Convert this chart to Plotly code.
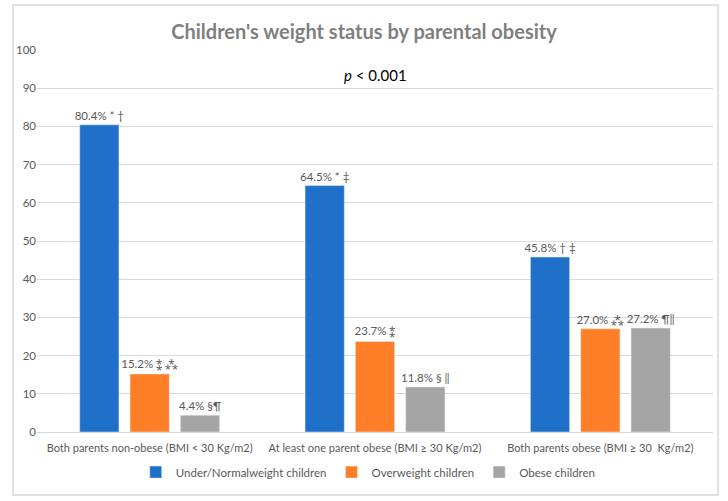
import plotly.graph_objects as go

categories = ["Both parents non-obese (BMI < 30 Kg/m2)",
              "At least one parent obese (BMI ≥ 30 Kg/m2)",
              "Both parents obese (BMI ≥ 30  Kg/m2)"]
series_names = ["Under/Normalweight children", "Overweight children", "Obese children"]
normal_vals = [80.4, 64.5, 45.8]
over_vals = [15.2, 23.7, 27.0]
obese_vals = [4.4, 11.8, 27.2]
normal_labels = ["80.4% * †", "64.5% * ‡", "45.8% † ‡"]
over_labels = ["15.2% ⁑ ⁂", "23.7% ⁑", "27.0% ⁂"]
obese_labels = ["4.4% §¶", "11.8% § ‖", "27.2% ¶‖"]
colors = ["#1f70c8", "#fe7f27", "#a5a5a5"]
y_ticks = list(range(0, 101, 10))

FONT = "Lato, Carlito, 'Open Sans', sans-serif"
fig = go.Figure()
for name, vals, labels, c in zip(series_names, [normal_vals, over_vals, obese_vals],
                                 [normal_labels, over_labels, obese_labels], colors):
    fig.add_trace(go.Bar(x=categories, y=vals, name=name, marker_color=c,
                         text=labels, textposition="outside", cliponaxis=False,
                         constraintext="none",
                         textfont=dict(size=11.5, color="#595959", family=FONT)))

fig.update_layout(
    width=728, height=501,
    margin=dict(l=37, r=15, t=50, b=69),
    paper_bgcolor="white", plot_bgcolor="white",
    barmode="group", bargap=0.33, bargroupgap=0.22,
    font=dict(family=FONT, color="#595959", size=11),
    showlegend=True,
    legend=dict(orientation="h", x=0.49, xanchor="center", y=-0.105, yanchor="middle",
                font=dict(size=11.5, color="#595959"), itemwidth=30, traceorder="normal"),
    title=dict(text="<b>Children's weight status by parental obesity</b>",
               x=0.5, xanchor="center", y=1 - 32 / 501, yanchor="middle",
               font=dict(size=20, color="#7f7f7f", family=FONT)),
    xaxis=dict(showgrid=False, showline=True, linecolor="#d9d9d9", ticks="",
               tickangle=0, automargin=False, ticklabelstandoff=6,
               tickfont=dict(size=11, color="#595959")),
    yaxis=dict(range=[0, 100], tickvals=y_ticks, showgrid=True, gridcolor="#d9d9d9",
               zeroline=False, showline=False, ticks="", automargin=False,
               tickfont=dict(size=11.5, color="#595959")),
)
fig.add_annotation(text="<i>p</i> < 0.001", xref="paper", yref="paper", x=0.5, y=(432 - 75) / 382,
                   xanchor="center", yanchor="middle",
                   showarrow=False, font=dict(size=15, color="black", family=FONT))
fig.add_shape(type="rect", xref="paper", yref="paper",
              x0=(13 - 37) / 676, x1=(718 - 37) / 676,
              y0=(432 - 495) / 382, y1=(432 - 5) / 382,
              line=dict(color="#d9d9d9", width=1.5), layer="below")
fig.write_html("out.html", config={"displayModeBar": False},
               post_script="document.body.style.margin='0';")
